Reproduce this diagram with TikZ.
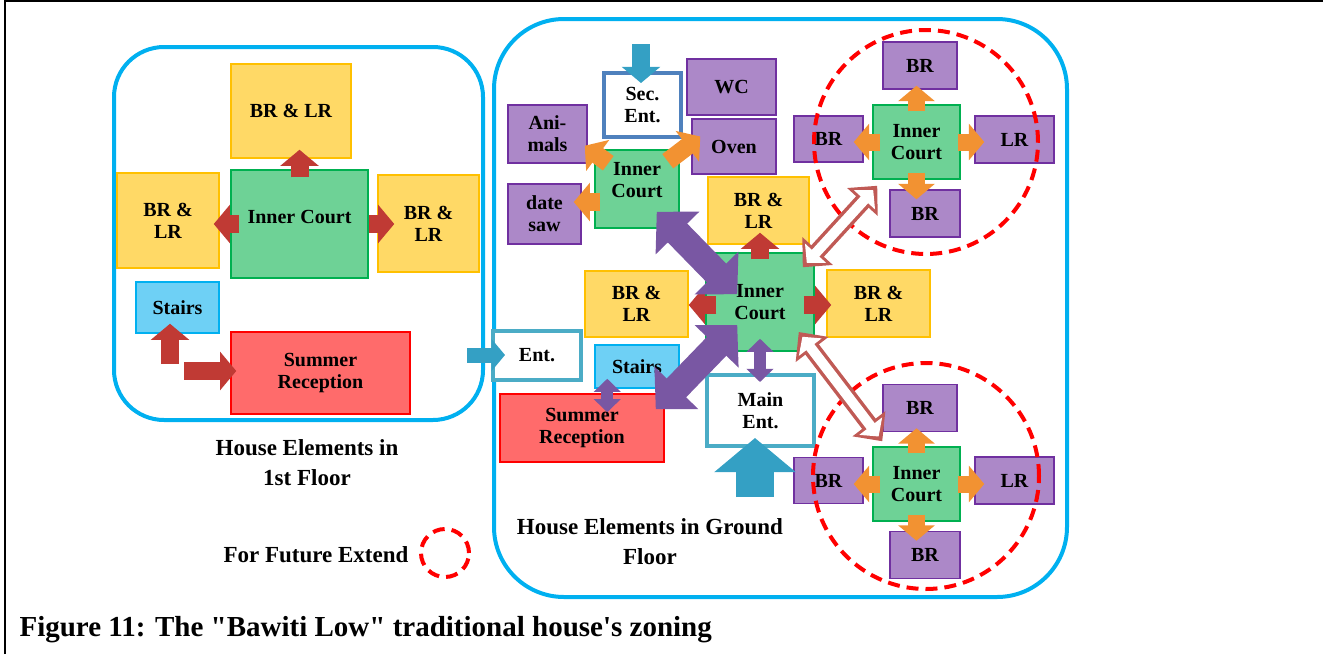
\documentclass[tikz,border=0pt]{standalone}
\usepackage{fontspec}
\setmainfont{Liberation Serif}[Ligatures=TeXOff]
\usepackage{tikz}
\usetikzlibrary{arrows.meta,calc}

\definecolor{floorblue}{RGB}{0,176,240}
\definecolor{yelfill}{RGB}{255,217,102}
\definecolor{yelline}{RGB}{255,192,0}
\definecolor{grnfill}{RGB}{110,210,150}
\definecolor{grnline}{RGB}{0,176,80}
\definecolor{skyfill}{RGB}{110,208,245}
\definecolor{rosefill}{RGB}{255,107,107}
\definecolor{lilfill}{RGB}{172,136,200}
\definecolor{lilline}{RGB}{112,48,160}
\definecolor{secline}{RGB}{79,129,189}
\definecolor{entline}{RGB}{75,172,198}
\definecolor{arrred}{RGB}{192,58,52}
\definecolor{arrorange}{RGB}{242,146,50}
\definecolor{arrpurple}{RGB}{121,87,163}
\definecolor{arrteal}{RGB}{52,160,196}
\definecolor{openred}{RGB}{192,90,85}

\newcommand{\roomfont}{\fontsize{20}{22}\selectfont\bfseries}
\newcommand{\headfont}{\fontsize{23}{30}\selectfont\bfseries}
\newcommand{\figcapfont}{\fontsize{29}{32}\selectfont\bfseries}

\tikzstyle{room} = [draw, line width=1.5pt, inner sep=0pt, align=center, font=\roomfont]
\tikzstyle{yel} = [room, fill=yelfill, draw=yelline]
\tikzstyle{grn} = [room, fill=grnfill, draw=grnline]
\tikzstyle{sky} = [room, fill=skyfill, draw=floorblue]
\tikzstyle{rose} = [room, fill=rosefill, draw=red]
\tikzstyle{lil} = [room, fill=lilfill, draw=lilline]
\tikzstyle{secbox} = [room, fill=white, draw=secline, line width=4pt]
\tikzstyle{entbox} = [room, fill=white, draw=entline, line width=4pt]
\tikzstyle{floorline} = [draw=floorblue, line width=4pt]
\tikzstyle{future} = [circle, draw=red, line width=4pt, dash pattern=on 12pt off 7pt, inner sep=0pt]
\tikzset{
  wh/.style 2 args={minimum width=#1pt, minimum height=#2pt},
  fat/.style={line width=#1, -{Triangle[width=0pt 2.1, length=0pt 0.9]}},
  fatboth/.style={line width=#1, {Triangle[width=0pt 2.2, length=0pt 1.1]}-{Triangle[width=0pt 2.2, length=0pt 1.1]}},
  openout/.style={draw=openred, line width=17pt, {Triangle[width=40pt,length=22pt]}-{Triangle[width=40pt,length=22pt]}},
  openin/.style={draw=white, line width=10pt, {Triangle[width=28pt,length=13pt]}-{Triangle[width=28pt,length=13pt]}, shorten <=6pt, shorten >=6pt}
}

\begin{document}
\begin{tikzpicture}[x=1pt, y=-1pt]
\useasboundingbox (0,0) rectangle (1323,654);
\draw[line width=2.5pt] (5,654) -- (5,1) -- (1323,1);

% the two floors
\draw[floorline, rounded corners=50pt] (114,47) rectangle (483,420);
\draw[floorline, rounded corners=70pt] (494,19) rectangle (1067,597);

% 1st floor
\node[yel, wh={120}{94}] (f1brtop) at (291,111) {BR \& LR};
\node[grn, wh={137}{108}] (f1court) at (299.5,224) {Inner Court\\[-8pt]};
\node[yel, wh={102}{95}] (f1brleft) at (168,220.5) {BR \&\\LR};
\node[yel, wh={101}{97}] (f1brright) at (428.5,223.5) {BR \&\\LR};
\node[sky, wh={83}{51}] (f1stairs) at (177.5,307.5) {Stairs};
\node[rose, wh={179}{82}] (f1summer) at (320.5,373) {Summer\\Reception};

\draw[fat=18pt, draw=arrred, shorten <=-8pt, shorten >=-9pt] (f1court.north) -- (f1court.north |- f1brtop.south);
\draw[fat=18pt, draw=arrred, shorten <=-9pt, shorten >=-6pt] (f1court.west) -- (f1court.west -| f1brleft.east);
\draw[fat=18pt, draw=arrred, shorten >=-17pt] (f1court.east) -- (f1court.east -| f1brright.west);
\coordinate (f1up) at (170,364);
\coordinate (f1right) at (184,371);
\draw[fat=18pt, draw=arrred, shorten >=-10pt] (f1up) -- (f1up |- f1stairs.south);
\draw[fat=18pt, draw=arrred, shorten >=-6pt] (f1right) -- (f1right -| f1summer.west);

\node[font=\headfont, align=center] (f1title) at (307,463) {House Elements in\\1st Floor};
\node[font=\headfont] (legend) at (316,555) {For Future Extend};
\node[future, minimum size=48pt] (legendring) at (445,553) {};

% ground floor
\node[secbox, wh={77}{64}] (gsec) at (642.5,105) {Sec.\\Ent.};
\node[lil, wh={89}{56}] (gwc) at (731.5,87) {WC};
\node[lil, wh={79}{58}] (ganimals) at (547.5,134) {Ani-\\mals};
\node[lil, wh={84}{55}] (goven) at (734,146.5) {Oven};
\node[grn, wh={84}{78}] (gcourta) at (637,189) {Inner\\Court\\[-4pt]};
\node[lil, wh={73}{60}] (gdate) at (544.5,214) {date\\saw};
\node[yel, wh={101}{67}] (gbrtop) at (758.5,210.5) {BR \&\\LR};
\node[entbox, wh={88}{49}] (gent) at (537,355.5) {Ent.};
\node[yel, wh={103}{66}] (gbrleft) at (636.5,304) {BR \&\\LR};
\node[grn, wh={108}{98}] (gcourt) at (760,302) {Inner\\Court};
\node[yel, wh={103}{67}] (gbrright) at (878.5,303.5) {BR \&\\LR};
\node[sky, wh={84}{43}] (gstairs) at (637,366.5) {Stairs};
\node[rose, wh={164}{68}] (gsummer) at (582,428) {Summer\\Reception};
\node[entbox, wh={107}{71}] (gmain) at (760.5,410.5) {Main\\Ent.};

% extension courts
\node[lil, wh={74}{47}] (ubrtop) at (920,65.5) {BR};
\node[grn, wh={87}{74}] (ucourt) at (916.5,142) {Inner\\Court};
\node[lil, wh={69}{46}] (ubrleft) at (828.5,139) {BR};
\node[lil, wh={79}{47}] (ulr) at (1014.5,139.5) {LR};
\node[lil, wh={70}{47}] (ubrbot) at (925,213.5) {BR};
\node[future, minimum size=224pt] (ucircle) at (926,142) {};

\node[lil, wh={74}{47}] (lbrtop) at (920,408) {BR};
\node[grn, wh={87}{74}] (lcourt) at (916.5,484) {Inner\\Court};
\node[lil, wh={69}{46}] (lbrleft) at (828.5,480.5) {BR};
\node[lil, wh={79}{47}] (llr) at (1014.5,480.5) {LR};
\node[lil, wh={70}{47}] (lbrbot) at (925,555) {BR};
\node[future, minimum size=226pt] (lcircle) at (926,476) {};

% entrances
\coordinate (sectail) at (641,44);
\coordinate (enttail) at (467,355);
\coordinate (maintail) at (755,497);
\draw[fat=18pt, draw=arrteal, shorten >=-12pt] (sectail) -- (sectail |- gsec.north);
\draw[fat=15pt, draw=arrteal, shorten >=-14pt] (enttail) -- (enttail -| gent.west);
\draw[fat=38pt, draw=arrteal, shorten >=-10pt] (maintail) -- (maintail |- gmain.south);

% small court
\draw[fat=18pt, draw=arrorange] ($(gcourta.north west)+(14,14)$) -- ($(ganimals.south east)+(-3,-18)$);
\draw[fat=18pt, draw=arrorange] ($(gcourta.north east)+(-12,12)$) -- ($(goven.west)+(9,-10)$);
\coordinate (gda) at ($(gcourta.west)+(6,13)$);
\draw[fat=18pt, draw=arrorange, shorten >=-8pt] (gda) -- (gda -| gdate.east);

% main court
\coordinate (gcl) at ($(gcourt.west)+(11,3)$);
\coordinate (gcr) at ($(gcourt.east)+(-11,3)$);
\draw[fat=18pt, draw=arrred, shorten <=-7pt, shorten >=-12pt] (gcourt.north) -- (gcourt.north |- gbrtop.south);
\draw[fat=18pt, draw=arrred] (gcl) -- (gcl -| gbrleft.east);
\draw[fat=18pt, draw=arrred, shorten >=-5pt] (gcr) -- (gcr -| gbrright.west);
\draw[fatboth=12pt, draw=arrpurple, shorten <=-13pt, shorten >=-9pt] (gcourt.south) -- (gcourt.south |- gmain.north);
\coordinate (gss) at ($(gstairs.south west)+(13,-10)$);
\draw[fatboth=12pt, draw=arrpurple, shorten >=-19pt] (gss) -- (gss |- gsummer.north);
\draw[fatboth=27pt, draw=arrpurple] ($(gcourta.south east)+(-23,-17)$) -- ($(gcourt.north west)+(32,42)$);
\draw[fatboth=27pt, draw=arrpurple] ($(gcourt.west)+(32,23)$) -- ($(gsummer.north east)+(-9,16)$);

% to the extensions
\draw[openout] ($(gcourt.north east)+(-12,15)$) -- ($(ucourt.south west)+(5,6)$);
\draw[openin] ($(gcourt.north east)+(-12,15)$) -- ($(ucourt.south west)+(5,6)$);
\draw[openout] ($(gcourt.east)+(-16,30)$) -- ($(lcourt.north west)+(10,-5)$);
\draw[openin] ($(gcourt.east)+(-16,30)$) -- ($(lcourt.north west)+(10,-5)$);

\draw[fat=17pt, draw=arrorange, shorten <=-7pt, shorten >=-4pt] (ucourt.north) -- (ucourt.north |- ubrtop.south);
\draw[fat=17pt, draw=arrorange, shorten <=-8pt, shorten >=-10pt] (ucourt.west) -- (ucourt.west -| ubrleft.east);
\draw[fat=17pt, draw=arrorange, shorten <=-3pt, shorten >=-10pt] (ucourt.east) -- (ucourt.east -| ulr.west);
\draw[fat=17pt, draw=arrorange, shorten <=-7pt, shorten >=-10pt] (ucourt.south) -- (ucourt.south |- ubrbot.north);

\draw[fat=17pt, draw=arrorange, shorten <=-7pt, shorten >=-4pt] (lcourt.north) -- (lcourt.north |- lbrtop.south);
\draw[fat=17pt, draw=arrorange, shorten <=-8pt, shorten >=-10pt] (lcourt.west) -- (lcourt.west -| lbrleft.east);
\draw[fat=17pt, draw=arrorange, shorten <=-3pt, shorten >=-10pt] (lcourt.east) -- (lcourt.east -| llr.west);
\draw[fat=17pt, draw=arrorange, shorten <=-7pt, shorten >=-10pt] (lcourt.south) -- (lcourt.south |- lbrbot.north);

\node[font=\headfont, align=center] (gtitle) at (650,542) {House Elements in Ground\\Floor};
\node[font=\figcapfont, anchor=west] (figcap) at (16,630) {Figure 11: The "Bawiti Low" traditional house's zoning};
\end{tikzpicture}
\end{document}
